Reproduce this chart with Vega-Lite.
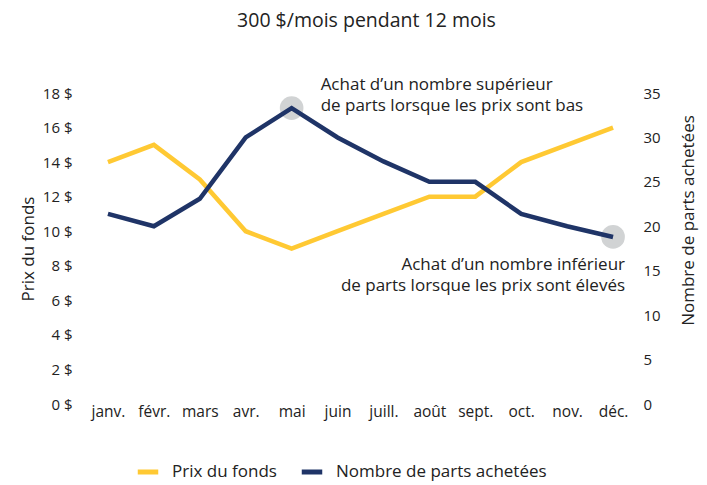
{
  "$schema": "https://vega.github.io/schema/vega-lite/v6.json",
  "width": 551,
  "height": 311,
  "autosize": {"type": "none"},
  "padding": {"left": 85, "top": 93, "right": 71, "bottom": 81},
  "background": "white",
  "title": {"text": "300 $/mois pendant 12 mois", "fontSize": 19.5, "font": "Open Sans", "fontWeight": "normal", "color": "#222222", "offset": 45, "anchor": "middle", "dx": 6},
  "config": {
    "view": {"stroke": null},
    "font": "Open Sans",
    "axis": {"grid": false, "domain": false, "ticks": false, "labelColor": "#222222", "titleColor": "#222222", "labelFont": "Open Sans", "titleFont": "Open Sans", "titleFontWeight": "normal"},
    "legend": {"labelFont": "Open Sans"}
  },
  "datasets": {
    "d": [
      {"mois": "janv.", "prix": 14, "parts": 21.4},
      {"mois": "févr.", "prix": 15, "parts": 20},
      {"mois": "mars", "prix": 13, "parts": 23.1},
      {"mois": "avr.", "prix": 10, "parts": 30},
      {"mois": "mai", "prix": 9, "parts": 33.3},
      {"mois": "juin", "prix": 10, "parts": 30},
      {"mois": "juill.", "prix": 11, "parts": 27.3},
      {"mois": "août", "prix": 12, "parts": 25},
      {"mois": "sept.", "prix": 12, "parts": 25},
      {"mois": "oct.", "prix": 14, "parts": 21.4},
      {"mois": "nov.", "prix": 15, "parts": 20},
      {"mois": "déc.", "prix": 16, "parts": 18.8}
    ],
    "hl": [
      {"mois": "mai", "parts": 33.3},
      {"mois": "déc.", "parts": 18.8}
    ],
    "notes": [
      {"mois": "mai", "y": 35.85, "txt": ["Achat d’un nombre supérieur", "de parts lorsque les prix sont bas"], "al": "left"},
      {"mois": "déc.", "y": 15.6, "txt": ["Achat d’un nombre inférieur", "de parts lorsque les prix sont élevés"], "al": "right"}
    ]
  },
  "encoding": {
    "x": {
      "field": "mois", "type": "ordinal", "sort": null,
      "scale": {"type": "point", "padding": 0.5, "domain": ["janv.", "févr.", "mars", "avr.", "mai", "juin", "juill.", "août", "sept.", "oct.", "nov.", "déc."]},
      "axis": {"title": null, "labelAngle": 0, "labelFontSize": 15.5, "labelPadding": 0}
    }
  },
  "layer": [
    {
      "data": {"name": "d"},
      "mark": {"type": "line", "strokeWidth": 4.5},
      "encoding": {
        "y": {"field": "prix", "type": "quantitative", "scale": {"domain": [0, 18]},
          "axis": {"title": "Prix du fonds", "titleFontSize": 17, "labelFontSize": 15, "values": [0,2,4,6,8,10,12,14,16,18], "labelExpr": "datum.value + ' $'", "labelPadding": 13, "titlePadding": 5}},
        "color": {"datum": "Prix du fonds", "type": "nominal",
          "scale": {"domain": ["Prix du fonds", "Nombre de parts achetées"], "range": ["#FFC933", "#1F3467"]},
          "legend": {"title": null, "orient": "none", "legendX": 50, "legendY": 366, "direction": "horizontal", "symbolType": "stroke", "symbolStrokeWidth": 5, "symbolSize": 420, "labelFontSize": 17, "labelColor": "#222222", "labelLimit": 0, "columnPadding": 14, "labelOffset": 11}}
      }
    },
    {
      "layer": [
        {
          "data": {"name": "hl"},
          "mark": {"type": "circle", "size": 560, "color": "#D1D3D4", "opacity": 1},
          "encoding": {"y": {"field": "parts", "type": "quantitative"}}
        },
        {
          "data": {"name": "d"},
          "mark": {"type": "line", "strokeWidth": 4.5},
          "encoding": {
            "y": {"field": "parts", "type": "quantitative"},
            "color": {"datum": "Nombre de parts achetées", "type": "nominal"}
          }
        },
        {
          "data": {"name": "notes"},
          "transform": [{"filter": "datum.al == 'left'"}],
          "mark": {"type": "text", "align": "left", "baseline": "middle", "dx": 29, "fontSize": 17, "color": "#222222", "lineHeight": 21},
          "encoding": {"y": {"field": "y", "type": "quantitative"}, "text": {"field": "txt"}}
        },
        {
          "data": {"name": "notes"},
          "transform": [{"filter": "datum.al == 'right'"}],
          "mark": {"type": "text", "align": "right", "baseline": "middle", "dx": 12, "fontSize": 17, "color": "#222222", "lineHeight": 21},
          "encoding": {"y": {"field": "y", "type": "quantitative"}, "text": {"field": "txt"}}
        }
      ],
      "encoding": {
        "y": {"type": "quantitative", "scale": {"domain": [0, 35]},
          "axis": {"orient": "right", "title": "Nombre de parts achetées", "titleAngle": 270, "titleBaseline": "middle", "titleFontSize": 17, "labelFontSize": 15, "values": [0,5,10,15,20,25,30,35], "labelPadding": 7, "titleX": 52, "titleY": 127}}
      }
    }
  ],
  "resolve": {"scale": {"y": "independent"}}
}
